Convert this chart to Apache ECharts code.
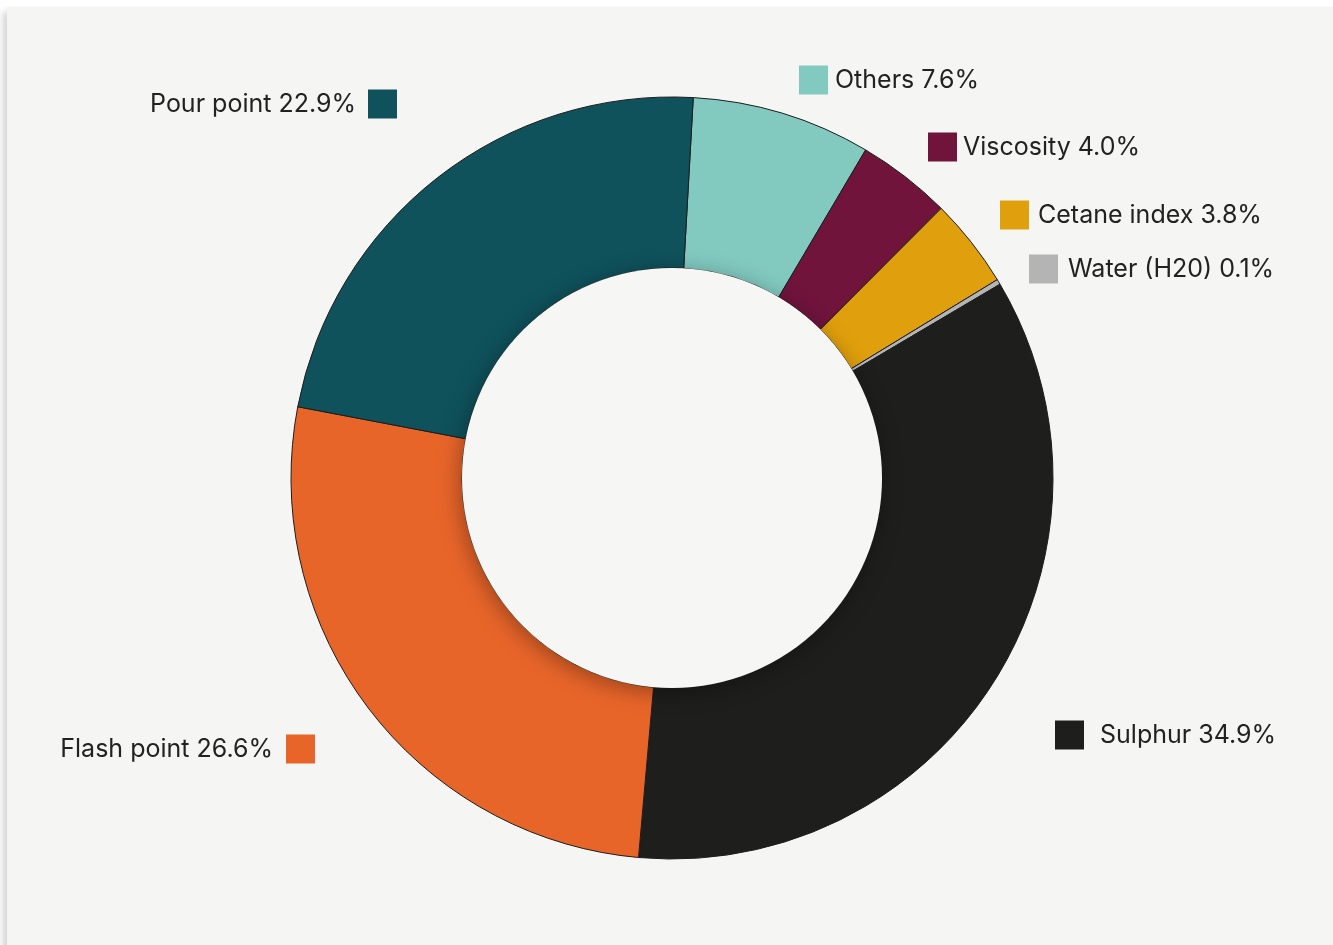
<!DOCTYPE html>
<html>
<head>
<meta charset="utf-8">
<script src="https://cdn.jsdelivr.net/npm/echarts@6/dist/echarts.min.js"></script>
<style>
  html, body { margin: 0; padding: 0; background: #ffffff; overflow: hidden; }
  #card {
    position: absolute; left: 7px; top: 7px; width: 1360px; height: 960px;
    background: #f5f5f3; box-shadow: -4px 5px 7px rgba(0,0,0,0.18);
  }
  #chart { position: absolute; left: 0; top: 0; width: 1333px; height: 945px; }
</style>
</head>
<body>
<div id="card"></div>
<div id="chart"></div>
<script>
// Share of off-spec results by parameter (%)
const categories = ['Others', 'Viscosity', 'Cetane index', 'Water (H20)', 'Sulphur', 'Flash point', 'Pour point'];
const shares = [7.6, 4.0, 3.8, 0.1, 34.9, 26.6, 22.9];
const palette = ['#82c9c0', '#70143c', '#e0a00d', '#b4b4b4', '#1e1e1c', '#e8652a', '#0f525c'];

// Label anchors: outer edge of the colour key next to each slice, and key-to-text gap
const labelAnchors = [
  { x: 799, y: 80, side: 'right', gap: 7 },
  { x: 928, y: 147, side: 'right', gap: 6 },
  { x: 1000, y: 215, side: 'right', gap: 9 },
  { x: 1029, y: 269, side: 'right', gap: 10 },
  { x: 1055, y: 735, side: 'right', gap: 16 },
  { x: 315, y: 749, side: 'left', gap: 13 },
  { x: 397, y: 104, side: 'left', gap: 12 }
];

const center = [672, 478];
const textStyle = { fontFamily: 'Inter', fontSize: 25, color: '#222222' };

const pieData = categories.map((name, i) => {
  const text = name + ' ' + shares[i].toFixed(1) + '%';
  const a = labelAnchors[i];
  const left = a.side === 'left';
  return {
    name: name,
    value: shares[i],
    itemStyle: { color: palette[i] },
    label: {
      formatter: left ? '{t|' + text + '}{sq|}' : '{sq|}{t|' + text + '}',
      rich: {
        t: Object.assign({}, textStyle, { padding: left ? [0, a.gap, 0, 0] : [0, 0, 0, a.gap], lineHeight: 29 }),
        sq: { width: 29, height: 29, backgroundColor: palette[i] }
      }
    }
  };
});

const chart = echarts.init(document.getElementById('chart'), null, { renderer: 'canvas' });
chart.setOption({
  backgroundColor: 'transparent',
  animation: false,
  series: [
    {
      type: 'pie',
      center: center,
      radius: [210, 381],
      startAngle: 86.8,
      clockwise: true,
      minAngle: 0.8,
      avoidLabelOverlap: false,
      itemStyle: { borderColor: '#1c1c1c', borderWidth: 1 },
      label: { show: true, position: 'outside', fontFamily: 'Inter', fontSize: 25, color: '#222222' },
      labelLine: { show: false },
      emphasis: { disabled: true },
      labelLayout: function (params) {
        const a = labelAnchors[params.dataIndex];
        return { x: a.x, y: a.y, align: a.side === 'left' ? 'right' : 'left', verticalAlign: 'middle' };
      },
      data: pieData
    },
    {
      // hole of the doughnut with a soft shadow over the ring's inner edge
      type: 'pie',
      center: center,
      radius: [0, 210],
      silent: true,
      label: { show: false },
      labelLine: { show: false },
      emphasis: { disabled: true },
      itemStyle: {
        color: '#f6f6f4',
        shadowBlur: 22,
        shadowColor: 'rgba(0,0,0,0.35)',
        shadowOffsetX: -2,
        shadowOffsetY: 4
      },
      data: [{ value: 1, name: 'hole' }]
    }
  ]
});
</script>
</body>
</html>
